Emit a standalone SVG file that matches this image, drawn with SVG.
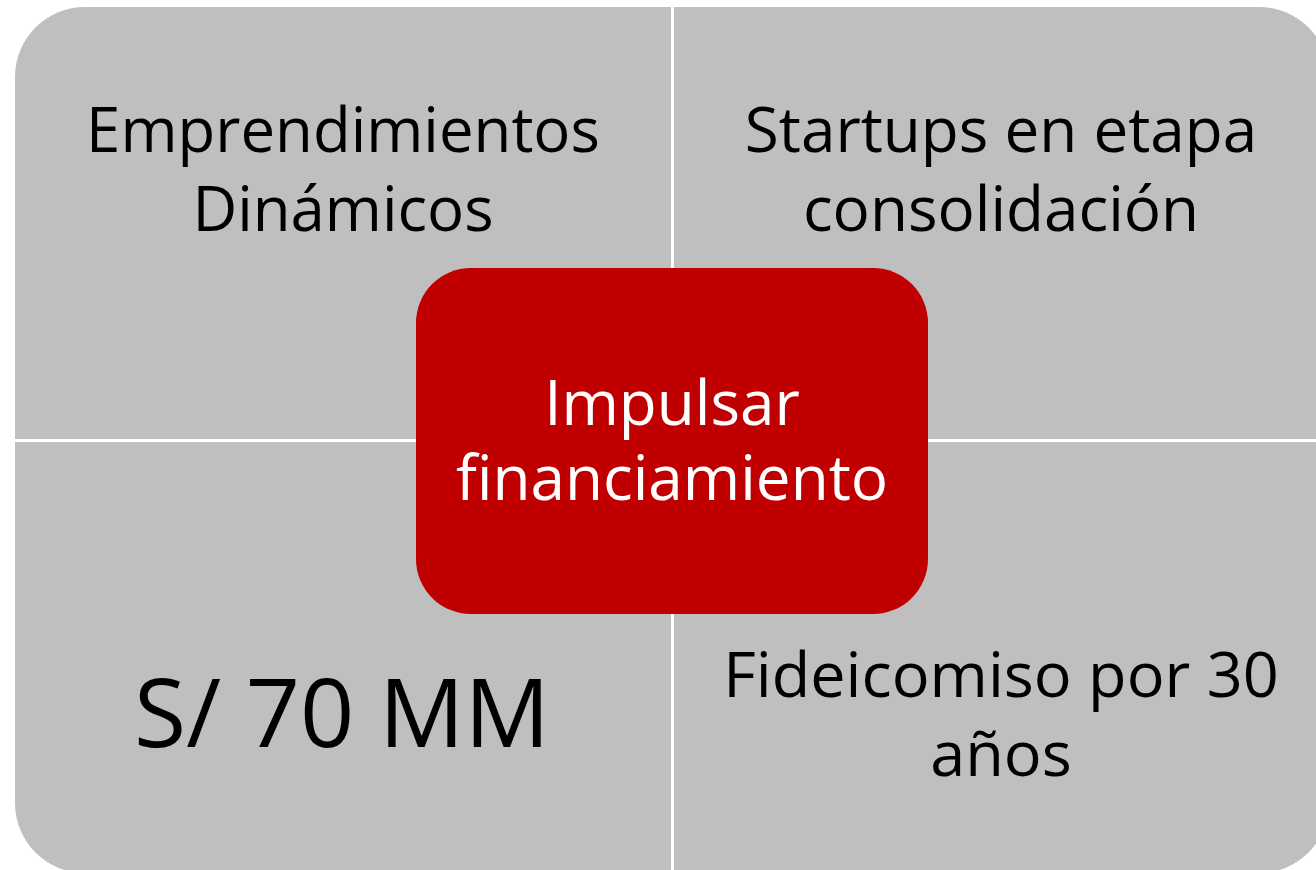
<svg xmlns="http://www.w3.org/2000/svg" width="1316" height="870" viewBox="0 0 1316 870">
<style>
.q{fill:#BFBFBF}
.t{font-family:"Open Sans","Noto Sans","Liberation Sans",sans-serif;fill:#000;text-anchor:middle}
.w{font-family:"Open Sans","Noto Sans","Liberation Sans",sans-serif;fill:#fff;text-anchor:middle}
</style>
<rect width="1316" height="870" fill="#fff"/>
<g id="q-top-left">
<path class="q" d="M15,439 V77 A70,70 0 0 1 85,7 H671 V439 Z"/>
<text class="t" font-size="61.7" x="343" y="152">Emprendimientos</text>
<text class="t" font-size="61.7" x="343" y="231">Dinámicos</text>
</g>
<g id="q-top-right">
<path class="q" d="M674,7 H1259 A70,70 0 0 1 1329,77 V439 H674 Z"/>
<text class="t" font-size="62" x="1001" y="152">Startups en etapa</text>
<text class="t" font-size="62" x="1001" y="231">consolidación</text>
</g>
<g id="q-bottom-left">
<path class="q" d="M15,442 H671 V873 H85 A70,70 0 0 1 15,803 Z"/>
<text class="t" font-size="95" x="342" y="747">S/ 70 MM</text>
</g>
<g id="q-bottom-right">
<path class="q" d="M674,442 H1329 V803 A70,70 0 0 1 1259,873 H674 Z"/>
<text class="t" font-size="63" x="1001" y="697">Fideicomiso por 30</text>
<text class="t" font-size="63" x="1001" y="776">años</text>
</g>
<g id="connectors"></g>
<g id="center">
<rect x="416" y="268" width="512" height="346" rx="55" ry="55" fill="#C00000"/>
<text class="w" font-size="62" x="672" y="425">Impulsar</text>
<text class="w" font-size="62" x="672" y="500">financiamiento</text>
</g>
</svg>
